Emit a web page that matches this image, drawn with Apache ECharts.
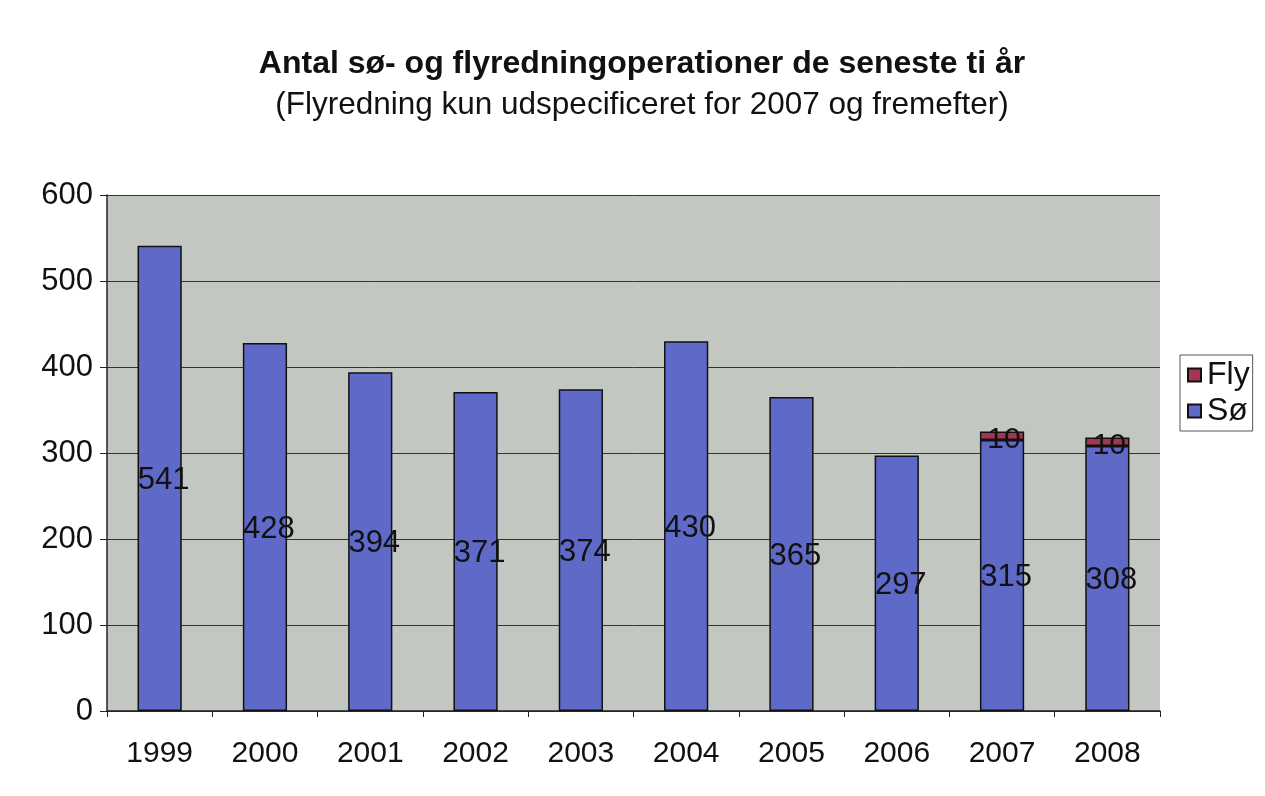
<!DOCTYPE html>
<html>
<head>
<meta charset="utf-8">
<script src="https://cdn.jsdelivr.net/npm/echarts@6/dist/echarts.min.js"></script>
<style>
  html, body { margin: 0; padding: 0; background: #fff; }
  #chart { width: 1265px; height: 796px; }
</style>
</head>
<body>
<div id="chart"></div>
<script>
var years = ['1999', '2000', '2001', '2002', '2003', '2004', '2005', '2006', '2007', '2008'];
var soe = [541, 428, 394, 371, 374, 430, 365, 297, 315, 308];
var fly = [null, null, null, null, null, null, null, null, 10, 10];
var yTicks = [0, 100, 200, 300, 400, 500, 600];

var chart = echarts.init(document.getElementById('chart'));

var option = {
  backgroundColor: '#ffffff',
  textStyle: { fontFamily: 'Liberation Sans, Arial, sans-serif' },
  title: {
    text: 'Antal sø- og flyredningoperationer de seneste ti år',
    subtext: '(Flyredning kun udspecificeret for 2007 og fremefter)',
    left: 637,
    textAlign: 'center',
    top: 43,
    itemGap: 9,
    textStyle: { fontSize: 32, fontWeight: 'bold', color: '#111' },
    subtextStyle: { fontSize: 31.5, color: '#111' }
  },
  legend: {
    orient: 'vertical',
    left: 1180,
    top: 355,
    data: ['Fly', 'Sø'],
    backgroundColor: '#ffffff',
    borderColor: '#555',
    borderWidth: 1,
    padding: [4, 3, 4, 7],
    itemGap: 4,
    itemWidth: 13,
    itemHeight: 13,
    icon: 'rect',
    textStyle: { fontSize: 32, color: '#111', padding: [0, 0, 0, 1] }
  },
  grid: {
    left: 107,
    right: 105,
    top: 195,
    bottom: 85,
    show: true,
    backgroundColor: '#c3c7c2',
    borderWidth: 0
  },
  xAxis: {
    type: 'category',
    data: years,
    axisLine: { lineStyle: { color: '#222', width: 1.5 } },
    axisTick: { show: true, lineStyle: { color: '#222' }, length: 6 },
    axisLabel: { fontSize: 30, color: '#111', margin: 28 }
  },
  yAxis: {
    type: 'value',
    min: yTicks[0],
    max: yTicks[yTicks.length - 1],
    interval: 100,
    axisLine: { show: true, lineStyle: { color: '#222', width: 1.5 } },
    axisTick: { show: true, lineStyle: { color: '#222' }, length: 7 },
    axisLabel: { fontSize: 31, color: '#111', margin: 14 },
    splitLine: { lineStyle: { color: '#333', width: 1 } }
  },
  series: [
    {
      name: 'Sø',
      type: 'bar',
      stack: 'total',
      barWidth: '42%',
      data: soe,
      itemStyle: { color: '#5f6ac8', borderColor: '#111', borderWidth: 1.5 },
      label: {
        show: true,
        position: 'inside',
        fontSize: 31,
        color: '#111',
        offset: [4, 2]
      }
    },
    {
      name: 'Fly',
      type: 'bar',
      stack: 'total',
      barWidth: '42%',
      data: fly,
      itemStyle: { color: '#a33555', borderColor: '#111', borderWidth: 1.5 },
      label: {
        show: true,
        position: 'inside',
        fontSize: 30,
        color: '#111',
        offset: [2, 4]
      }
    }
  ]
};

chart.setOption(option);
</script>
</body>
</html>
